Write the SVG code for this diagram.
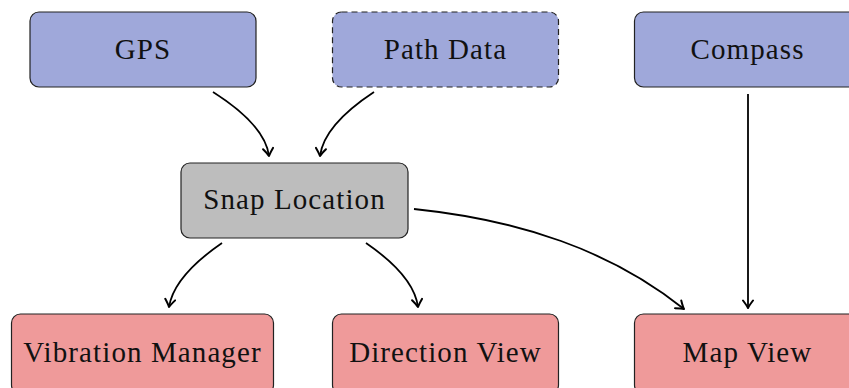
<svg xmlns="http://www.w3.org/2000/svg" width="849" height="388" viewBox="0 0 849 388">
<defs>
<style>
.box{stroke:#222;stroke-width:1.2}
.blue{fill:#9fa8da}
.red{fill:#ef9a9a}
.gray{fill:#bdbdbd}
.lbl{font-size:29px;fill:#111;text-anchor:middle;letter-spacing:1.1px}
.edge{fill:none;stroke:#000;stroke-width:1.8;marker-end:url(#arr)}
</style>
<marker id="arr" viewBox="-10 -6 12 12" markerWidth="12" markerHeight="12" refX="0" refY="0" orient="auto" markerUnits="userSpaceOnUse">
<path d="M-7.5,-5 Q-2.5,-1.2 0,0 Q-2.5,1.2 -7.5,5" fill="none" stroke="#000" stroke-width="2" stroke-linecap="round" stroke-linejoin="round"/>
</marker>
</defs>
<rect width="849" height="388" fill="#fff"/>
<g font-family="'Liberation Serif', 'Times New Roman', serif">
<g id="gps"><rect class="box blue" x="30" y="12" width="226" height="75" rx="9"/><text class="lbl" x="143" y="59">GPS</text></g>
<g id="pathdata"><rect class="box blue" x="332.5" y="12" width="226" height="75" rx="9" stroke-dasharray="6,4"/><text class="lbl" x="445.5" y="59">Path Data</text></g>
<g id="compass"><rect class="box blue" x="634.5" y="12" width="226" height="75" rx="9"/><text class="lbl" x="747.5" y="59">Compass</text></g>
<g id="snap"><rect class="box gray" x="181" y="163" width="227" height="75" rx="9"/><text class="lbl" x="294.5" y="209">Snap Location</text></g>
<g id="vibration"><rect class="box red" x="11.5" y="314" width="262" height="80" rx="9"/><text class="lbl" x="142.5" y="362">Vibration Manager</text></g>
<g id="direction"><rect class="box red" x="332.5" y="314" width="226" height="80" rx="9"/><text class="lbl" x="445.5" y="362">Direction View</text></g>
<g id="mapview"><rect class="box red" x="634.5" y="314" width="226" height="80" rx="9"/><text class="lbl" x="747.5" y="362">Map View</text></g>
</g>
<g id="connectors">
<path class="edge" d="M213,92 Q265,125 269,156"/>
<path class="edge" d="M374,92 Q324,125 320,156"/>
<path class="edge" d="M748,94 L748,308"/>
<path class="edge" d="M222,243 Q174,276 169,307"/>
<path class="edge" d="M366,243 Q414,276 418,307"/>
<path class="edge" d="M414,209 C520,220 610,250 684,309"/>
</g>
</svg>
